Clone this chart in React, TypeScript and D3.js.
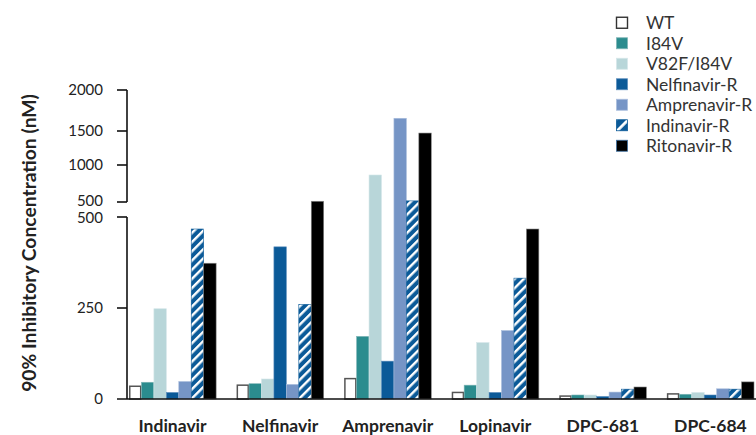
import React from "react";
import * as d3 from "d3";

const categories = ["Indinavir", "Nelfinavir", "Amprenavir", "Lopinavir", "DPC-681", "DPC-684"];
const seriesNames = ["WT", "I84V", "V82F/I84V", "Nelfinavir-R", "Amprenavir-R", "Indinavir-R", "Ritonavir-R"];
const wtValues = [35, 38, 56, 18, 8, 14];
const i84vValues = [46, 42, 172, 38, 11, 13];
const v82fValues = [248, 55, 865, 155, 11, 18];
const nelfValues = [18, 418, 104, 18, 7, 11];
const amprValues = [48, 40, 1655, 188, 19, 28];
const indiValues = [467, 260, 515, 332, 27, 27];
const ritoValues = [373, 510, 1470, 467, 33, 47];
const lowerTicks = [0, 250, 500];
const upperTicks = [500, 1000, 1500, 2000];
const yTitle = "90% Inhibitory Concentration (nM)";

const seriesValues = [wtValues, i84vValues, v82fValues, nelfValues, amprValues, indiValues, ritoValues];
const fills = ["#ffffff", "#2b8c8e", "#b8d6d9", "#0b5a98", "#7695c6", "url(#hatch)", "#000000"];
const strokes = ["#555555", "#7fb5b6", "#d6e7e9", "#5e8fbd", "#a9bddd", "#0b5a98", "#888888"];
const strokeW = [1.5, 0.6, 0.6, 0.6, 0.6, 0.6, 0.6];

const W = 756;
const H = 435;
const axisX = 127;
const font = "Lato, 'Open Sans', sans-serif";

export default function App() {
  const x0 = d3.scaleBand<string>().domain(categories).range([129, 754]).paddingInner(0.19).paddingOuter(0);
  const x1 = d3.scaleBand<string>().domain(seriesNames).range([0, x0.bandwidth()]).padding(0);
  const yLow = d3.scaleLinear().domain([0, 500]).range([399, 217]);
  const yHigh = d3.scaleLinear().domain([500, 1000, 1500, 2000]).range([202, 165, 131, 90]);
  const y = (v: number) => (v <= 500 ? yLow(v) : yHigh(v));
  const base = yLow(0);

  const legendY = d3.scaleBand<string>().domain(seriesNames).range([12.5, 156]);

  return (
    <svg width={W} height={H} style={{ position: "absolute", left: 0, top: 0, background: "#fff" }}>
      <defs>
        <pattern id="hatch" patternUnits="userSpaceOnUse" width={6.5} height={6.5} patternTransform="rotate(45)">
          <rect x={0} y={0} width={6.5} height={6.5} fill="#0b5a98" />
          <rect x={0} y={0} width={2.4} height={6.5} fill="#ffffff" />
        </pattern>
        <pattern id="hatchLegend" patternUnits="userSpaceOnUse" width={9} height={9} patternTransform="translate(621 125) rotate(45)">
          <rect x={0} y={0} width={9} height={9} fill="#0b5a98" />
          <rect x={0} y={0} width={2.8} height={9} fill="#ffffff" />
        </pattern>
      </defs>

      {/* bars */}
      {categories.map((c, ci) => (
        <g key={c} transform={`translate(${x0(c)},0)`}>
          {seriesNames.map((s, si) => {
            const v = seriesValues[si][ci];
            const top = y(v);
            return (
              <rect
                key={s}
                x={x1(s)! + (si === 0 ? 0.75 : 0)}
                y={top}
                width={x1.bandwidth() - (si === 0 ? 1.5 : 0)}
                height={base - top}
                fill={fills[si]}
                stroke={strokes[si]}
                strokeWidth={strokeW[si]}
              />
            );
          })}
        </g>
      ))}

      {/* axes */}
      <g stroke="#111" strokeWidth={1.6} fill="none">
        <line x1={axisX} x2={axisX} y1={yHigh(2000)} y2={yHigh(500)} />
        {upperTicks.map((t) => (
          <line key={"u" + t} x1={axisX - 10} x2={axisX} y1={yHigh(t)} y2={yHigh(t)} />
        ))}
        <line x1={axisX} x2={axisX} y1={yLow(500)} y2={yLow(0)} />
        {lowerTicks.map((t) => (
          <line key={"l" + t} x1={axisX - 10} x2={t === 0 ? W : axisX} y1={yLow(t)} y2={yLow(t)} />
        ))}
      </g>

      {/* tick labels */}
      <g fontFamily={font} fontSize={15} fill="#222" textAnchor="end">
        {upperTicks.map((t) => (
          <text key={"ut" + t} x={103} y={yHigh(t) - (t === 500 ? 1 : 0)} dy="0.35em">{t}</text>
        ))}
        {lowerTicks.map((t) => (
          <text key={"lt" + t} x={103} y={yLow(t) + (t === 500 ? 1 : 0)} dy="0.35em">{t}</text>
        ))}
      </g>

      {/* y title */}
      <text
        transform={`translate(35.5,${243}) rotate(-90)`}
        textAnchor="middle"
        fontFamily={font}
        fontWeight="bold"
        fontSize={19.3}
        fill="#222"
      >
        {yTitle}
      </text>

      {/* category labels */}
      <g fontFamily={font} fontWeight="bold" fontSize={17.5} fill="#222" textAnchor="middle">
        {categories.map((c) => (
          <text key={"c" + c} x={x0(c)! + x0.bandwidth() / 2} y={432}>{c}</text>
        ))}
      </g>

      {/* legend */}
      <g fontFamily={font} fontSize={17.5} fill="#333">
        {seriesNames.map((s, si) => {
          const cy = legendY(s)! + legendY.bandwidth() / 2;
          return (
            <g key={"lg" + s}>
              <rect
                x={616.5}
                y={cy - 5.5}
                width={11}
                height={11}
                fill={si === 5 ? "url(#hatchLegend)" : fills[si]}
                stroke={si === 0 ? "#333" : si === 6 ? "#3d6fa0" : strokes[si]}
                strokeWidth={si === 0 ? 1.4 : 0.8}
              />
              <text x={646} y={cy} dy="0.36em">{s}</text>
            </g>
          );
        })}
      </g>
    </svg>
  );
}
